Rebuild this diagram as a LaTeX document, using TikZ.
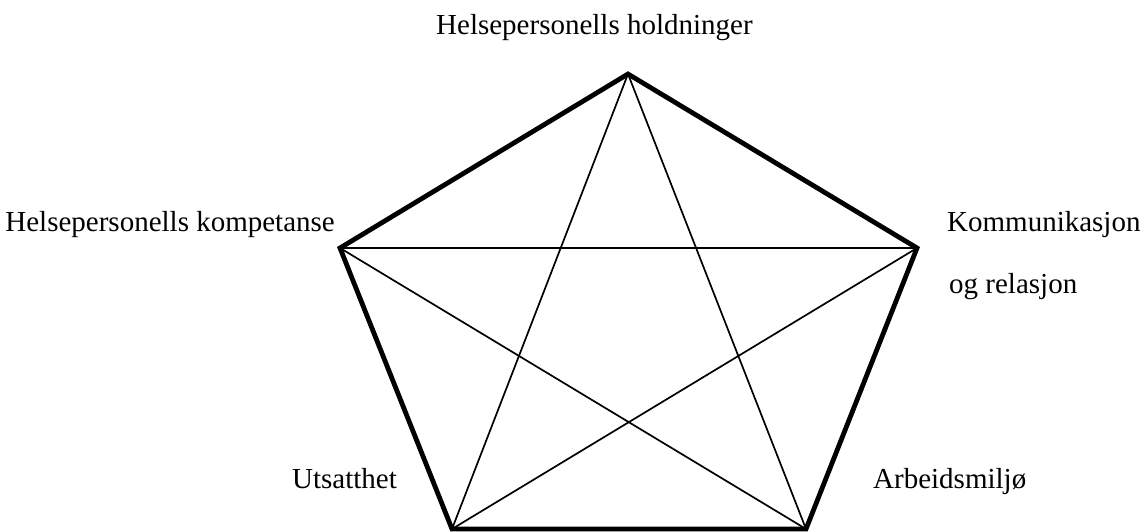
\documentclass[tikz,border=0pt]{standalone}
\usepackage{fontspec}
\setmainfont{Liberation Serif}

\begin{document}
\begin{tikzpicture}[x=1pt, y=-1pt,
  rim/.style={line width=4.8pt, line join=miter},
  chord/.style={line width=1.7pt},
  lbl/.style={font=\fontsize{29}{35}\selectfont, inner sep=0pt}]
  \useasboundingbox (0,0) rectangle (1148,531);
  \coordinate (T) at (628,74);
  \coordinate (L) at (340,248);
  \coordinate (R) at (917,248);
  \coordinate (BL) at (452,529);
  \coordinate (BR) at (806,529);
  % femkant
  \draw[rim] (L) -- (T) -- (R) -- (BR) -- (BL) -- cycle;
  % stjerne
  \draw[chord] (T) -- (BL);
  \draw[chord] (T) -- (BR);
  \draw[chord] (L) -- (R);
  \draw[chord] (L) -- (BR);
  \draw[chord] (R) -- (BL);
  \node[lbl, anchor=base west] (holdn) at (436,34) {Helsepersonells holdninger};
  \node[lbl, anchor=base east] (komp) at (335,231) {Helsepersonells kompetanse};
  \node[lbl, anchor=base west] (komm) at (947,231) {Kommunikasjon};
  \node[lbl, anchor=base west] (rel) at (949,293) {og relasjon};
  \node[lbl, anchor=base west] (utsatt) at (292,488) {Utsatthet};
  \node[lbl, anchor=base west] (miljo) at (873,488) {Arbeidsmiljø};
\end{tikzpicture}
\end{document}
